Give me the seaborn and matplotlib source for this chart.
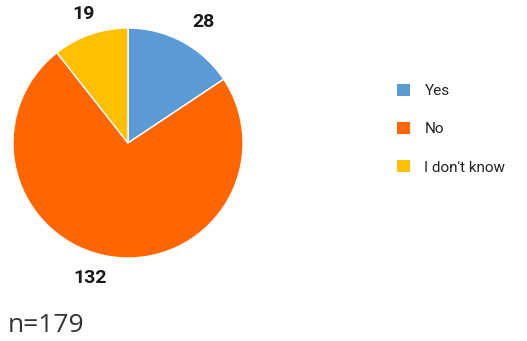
import matplotlib
matplotlib.use("Agg")
import matplotlib.pyplot as plt
from matplotlib.patches import Patch
import seaborn as sns

sns.set_theme(style="white")

answers = ["Yes", "No", "I don't know"]
counts = [28, 132, 19]
slice_colors = ["#5B9BD5", "#FF6600", "#FFC000"]
n_total = 179

fig = plt.figure(figsize=(5.27, 3.41), dpi=100)
fig.patch.set_facecolor("white")
axis = fig.add_axes([13 / 527, 1 - 258 / 341, 230 / 527, 230 / 341])

wedges, texts = axis.pie(
    counts,
    colors=slice_colors,
    labels=[str(c) for c in counts],
    startangle=90,
    counterclock=False,
    labeldistance=1.19,
    wedgeprops={"edgecolor": "white", "linewidth": 1},
    textprops={"fontsize": 14, "fontweight": "bold", "color": "#1a1a1a",
               "family": ["Roboto", "DejaVu Sans"]},
)
# small label: keep it centred above its slice
texts[2].set_ha("center")
axis.set_xlim(-1, 1)
axis.set_ylim(-1, 1)
axis.set_aspect("equal")
axis.axis("off")

handles = [Patch(facecolor=c, edgecolor="none") for c in slice_colors]
legend = fig.legend(
    handles,
    answers,
    loc="upper left",
    bbox_to_anchor=(397 / 527, 1 - 84 / 341),
    frameon=False,
    borderpad=0,
    borderaxespad=0,
    handlelength=0.85,
    handleheight=0.85,
    handletextpad=0.95,
    labelspacing=1.55,
    prop={"size": 11, "family": ["Roboto", "DejaVu Sans"]},
)
for text in legend.get_texts():
    text.set_color("#222222")

fig.text(8 / 527, 1 - 325 / 341, "n=%d" % n_total, fontsize=19,
         family=["Open Sans", "DejaVu Sans"], color="#333333",
         ha="left", va="center")

fig.savefig("out.png", dpi=100, facecolor="white")
plt.close(fig)
